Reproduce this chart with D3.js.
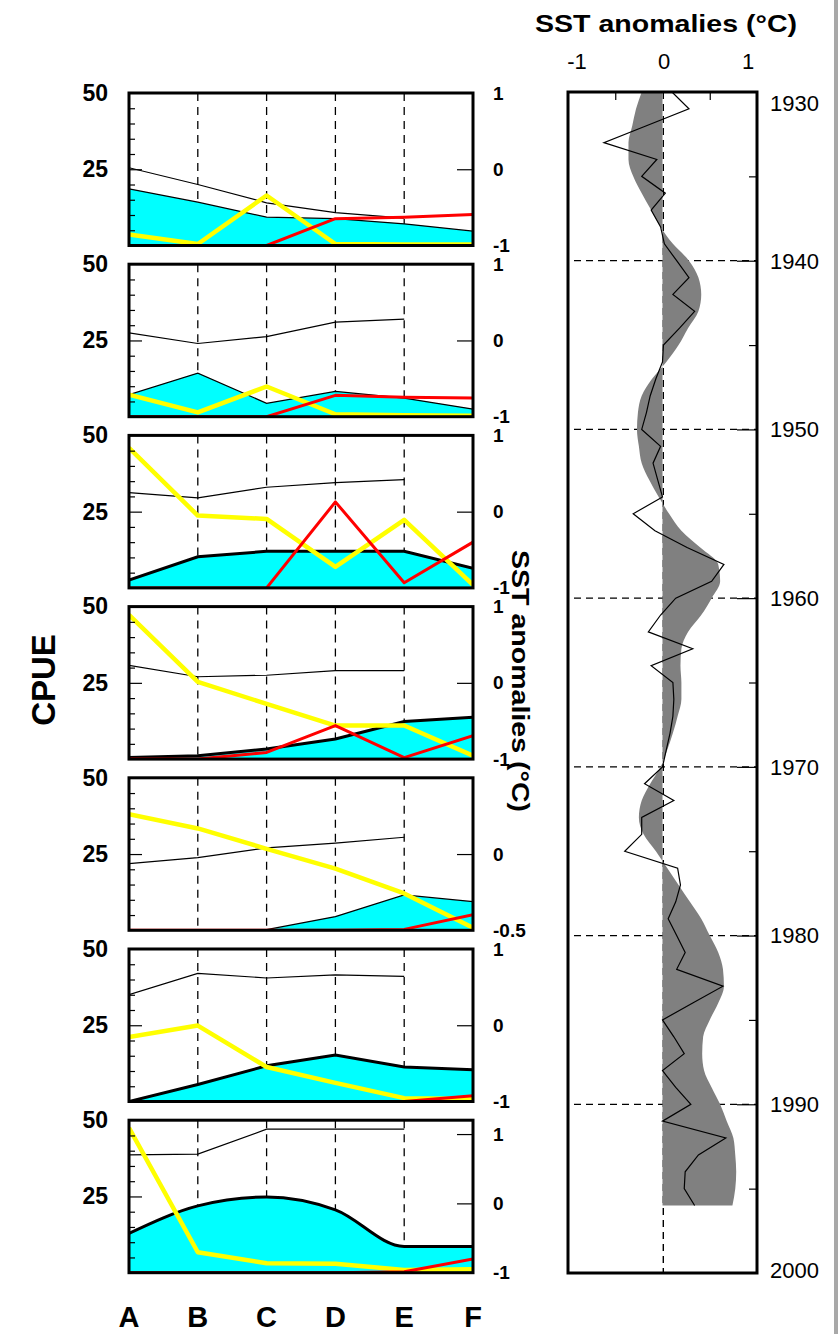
<!DOCTYPE html>
<html><head><meta charset="utf-8">
<script src="https://cdn.jsdelivr.net/npm/d3@7"></script>
<style>
body{margin:0;background:#fff}
svg{display:block}
text{font-family:"Liberation Sans",Arial,Helvetica,sans-serif;fill:#000}
</style>
</head><body>
<svg id="c" width="838" height="1334"></svg>
<script>
// ---------------- DATA ----------------
const categories = ["A","B","C","D","E","F"];
const cpueTickLabels = [50, 25];
const cpueMinorTicks = [5,10,15,20,30,35,40,45];

// CPUE cyan area, one row per panel (top to bottom)
const cyanSeries = [
  [18.6,14.2,9.3,8.8,7.1,4.7],
  [7.2,14.3,4.4,8.3,6.1,2.5],
  [2.6,10.2,12.0,12.0,12.0,6.4],
  [0.5,1.1,3.3,6.6,12.3,13.7],
  [0,0,0.2,4.5,11.6,9.4],
  [0,5.6,11.7,15.2,11.3,10.4],
  [12.9,21.9,24.8,20.6,8.6,8.6]
];
// CPUE yellow line
const yellowSeries = [
  [3.6,0.5,16.4,0.5,0.3,0.3],
  [7.2,1.4,9.9,0.8,0.5,0.3],
  [45.9,23.7,22.6,6.9,22.3,1.0],
  [47.3,25.3,18.1,11.0,11.0,1.1],
  [38.1,33.4,26.7,20.2,12.1,0.8],
  [21.1,24.9,11.3,6.1,1.1,0.8],
  [47.5,6.7,3.1,2.9,0.9,1.1]
];
// CPUE red line
const redSeries = [
  [0,0,0,8.8,9.3,10.2],
  [0,0,0,7.0,6.4,6.1],
  [0,0,0,28.2,1.7,15.0],
  [0,0,2.2,11.0,0.5,7.7],
  [0,0,0,0,0.3,5.1],
  [0,0,0,0,0,1.9],
  [0,0,0,0,0.3,4.5]
];
// SST anomaly thin black line (categories A-E), right axis
const sstPanelSeries = [
  [0.02,-0.2,-0.44,-0.57,-0.64],
  [0.10,-0.04,0.05,0.24,0.28],
  [0.25,0.18,0.32,0.38,0.42],
  [0.23,0.08,0.10,0.16,0.16],
  [-0.063,-0.024,0.041,0.071,0.11],
  [0.40,0.68,0.62,0.66,0.64],
  [0.70,0.71,1.07,1.07,1.07]
];
const rightDomains = [[-1,1],[-1,1],[-1,1],[-1,1],[-0.5,0.5],[-1,1],[-1,1.2]];
const rightTickLabels = [[1,0,-1],[1,0,-1],[1,0,-1],[1,0,-1],[0,-0.5],[1,0,-1],[1,0,-1]];
const rightTickMarks = [[0],[0],[0],[0],[0],[0],[1,0]];
const thickOutline = [false,false,true,true,false,true,true];

// Long SST record
const sstYears = d3.range(1930, 1997);
const sstSmooth = [-0.22,-0.28,-0.32,-0.36,-0.36,-0.31,-0.22,-0.12,-0.02,0.11,
  0.28,0.38,0.41,0.38,0.27,0.17,0.04,-0.11,-0.22,-0.26,
  -0.27,-0.25,-0.22,-0.14,-0.04,0.07,0.20,0.40,0.59,0.61,
  0.52,0.41,0.27,0.20,0.19,0.20,0.20,0.16,0.11,0.05,
  -0.02,-0.13,-0.22,-0.25,-0.20,-0.07,0.05,0.17,0.29,0.41,
  0.50,0.59,0.64,0.65,0.59,0.50,0.43,0.42,0.44,0.52,
  0.61,0.68,0.75,0.77,0.78,0.77,0.74];
const sstAnnual = [0.10,0.28,-0.17,-0.62,-0.06,-0.22,0.03,-0.12,-0.02,0.02,
  0.15,0.28,0.11,0.34,0.18,0.01,0.0,-0.07,-0.13,-0.17,
  -0.22,-0.02,-0.10,-0.05,0.0,-0.31,-0.08,0.26,0.65,0.52,
  0.14,-0.02,-0.15,0.32,-0.12,0.11,0.12,0.11,0.08,0.04,
  0.0,-0.19,0.12,-0.22,-0.22,-0.40,0.16,0.19,0.14,0.06,
  0.15,0.24,0.15,0.64,0.32,0.0,0.12,0.23,0.0,0.14,
  0.30,0.0,0.67,0.38,0.24,0.23,0.34];
const sstXTicks = [-1, 0, 1];
const sstXMinor = [-0.5, 0.5];
const yearLabels = [1930,1940,1950,1960,1970,1980,1990,2000];
const yearMinor = [1935,1945,1955,1965,1975,1985,1995];
const yearDashed = [1940,1950,1960,1970,1980,1990];

// ---------------- DRAW ----------------
const svg = d3.select("#c");
svg.append("rect").attr("width",838).attr("height",1334).attr("fill","#fff");
svg.append("rect").attr("x",834).attr("y",0).attr("width",4).attr("height",1334).attr("fill","#a8a8a8");

const xL = d3.scalePoint().domain(categories).range([129, 473]);
const panelTop0 = 93, panelStep = 171.2, panelH = 152.5;

cyanSeries.forEach((cy, i) => {
  const top = panelTop0 + i*panelStep, bot = top + panelH;
  const y = d3.scaleLinear().domain([0,50]).range([bot, top]);
  const yR = d3.scaleLinear().domain(rightDomains[i]).range([bot, top]);
  const g = svg.append("g");
  const clipId = "clip"+i;
  g.append("clipPath").attr("id",clipId).append("rect")
    .attr("x",129).attr("y",top).attr("width",344).attr("height",panelH);
  const inner = g.append("g").attr("clip-path",`url(#${clipId})`);

  // dashed category lines
  inner.selectAll("line.grid").data(categories.slice(1,5)).join("line")
    .attr("x1",d=>xL(d)).attr("x2",d=>xL(d)).attr("y1",top).attr("y2",bot)
    .attr("stroke","#000").attr("stroke-width",1.3).attr("stroke-dasharray","8,6");

  const curve = i === 6 ? d3.curveMonotoneX : d3.curveLinear;
  const area = d3.area().x((d,j)=>xL(categories[j])).y0(bot).y1(d=>y(d)).curve(curve);
  const line = d3.line().x((d,j)=>xL(categories[j])).y(d=>y(d)).curve(curve);
  inner.append("path").attr("d",area(cy)).attr("fill","#00ffff");
  inner.append("path").attr("d",line(cy)).attr("fill","none").attr("stroke","#000")
    .attr("stroke-width",thickOutline[i]?3:1.2);

  const lineR = d3.line().x((d,j)=>xL(categories[j])).y(d=>yR(d));
  inner.append("path").attr("d",lineR(sstPanelSeries[i])).attr("fill","none")
    .attr("stroke","#000").attr("stroke-width",1.2);

  const lineL = d3.line().x((d,j)=>xL(categories[j])).y(d=>y(d));
  inner.append("path").attr("d",lineL(yellowSeries[i])).attr("fill","none")
    .attr("stroke","#ffff00").attr("stroke-width",4.5).attr("stroke-linejoin","round");
  inner.append("path").attr("d",lineL(redSeries[i])).attr("fill","none")
    .attr("stroke","#ff0000").attr("stroke-width",3).attr("stroke-linejoin","round");

  // left inner ticks
  const axMinor = g.append("g").attr("transform",`translate(129,0)`)
    .call(d3.axisRight(y).tickValues(cpueMinorTicks).tickSize(6).tickFormat(""));
  axMinor.select(".domain").remove();
  axMinor.selectAll("line").attr("stroke-width",1.2);
  const axMajor = g.append("g").attr("transform",`translate(129,0)`)
    .call(d3.axisRight(y).tickValues([25]).tickSize(13).tickFormat(""));
  axMajor.select(".domain").remove();
  axMajor.selectAll("line").attr("stroke-width",1.2);
  // left labels
  const axLab = g.append("g").attr("transform",`translate(129,0)`)
    .call(d3.axisLeft(y).tickValues(cpueTickLabels).tickSize(0).tickPadding(21));
  axLab.select(".domain").remove();
  axLab.selectAll("text").attr("font-size",23).attr("font-weight","bold")
    .attr("font-family","Liberation Sans, Arial, sans-serif");

  // right inner ticks
  const axR = g.append("g").attr("transform",`translate(473,0)`)
    .call(d3.axisLeft(yR).tickValues(rightTickMarks[i]).tickSize(16).tickFormat(""));
  axR.select(".domain").remove();
  axR.selectAll("line").attr("stroke-width",1.2);
  const axRL = g.append("g").attr("transform",`translate(473,0)`)
    .call(d3.axisRight(yR).tickValues(rightTickLabels[i]).tickSize(0).tickPadding(20).tickFormat(d=>String(d)));
  axRL.select(".domain").remove();
  axRL.selectAll("text").attr("font-size",19).attr("font-weight","bold")
    .attr("font-family","Liberation Sans, Arial, sans-serif");

  // frame
  g.append("rect").attr("x",129).attr("y",top).attr("width",344).attr("height",panelH)
    .attr("fill","none").attr("stroke","#000").attr("stroke-width",3);
});

// category labels
svg.append("g").selectAll("text").data(categories).join("text")
  .attr("x",d=>xL(d)).attr("y",1327).attr("text-anchor","middle")
  .attr("font-size",29).attr("font-weight","bold").text(d=>d);

// CPUE label
svg.append("text").attr("transform","translate(55,680) rotate(-90)")
  .attr("text-anchor","middle").attr("font-size",33).attr("font-weight","bold").text("CPUE");

// rotated SST label
svg.append("text").attr("transform","translate(512,681) rotate(90)")
  .attr("text-anchor","middle").attr("font-size",24).attr("font-weight","bold")
  .attr("textLength",262).attr("lengthAdjust","spacingAndGlyphs").text("SST anomalies (°C)");

// ---------------- SST long panel ----------------
const xS = d3.scaleLinear().domain([-1,1]).range([568,757]);
const yS = d3.scaleLinear().domain([1930,2000]).range([92,1273]);
const gS = svg.append("g");

gS.selectAll("line.hd").data(yearDashed).join("line")
  .attr("x1",574).attr("x2",757).attr("y1",d=>yS(d)).attr("y2",d=>yS(d))
  .attr("stroke","#000").attr("stroke-width",1.2).attr("stroke-dasharray","7,5");
gS.append("line").attr("x1",xS(0)+0.8).attr("x2",xS(0)+0.8).attr("y1",92).attr("y2",1273)
  .attr("stroke","#000").attr("stroke-width",1.4).attr("stroke-dasharray","7,5");

const sArea = d3.area().y((d,j)=>yS(sstYears[j])).x0(xS(0)).x1(d=>xS(d)).curve(d3.curveMonotoneY);
gS.append("path").attr("d",sArea(sstSmooth)).attr("fill","#808080");
const sLine = d3.line().y((d,j)=>yS(sstYears[j])).x(d=>xS(d));
gS.append("path").attr("d",sLine(sstAnnual)).attr("fill","none").attr("stroke","#000").attr("stroke-width",1.2);

// ticks on right (inner)
const ayMaj = gS.append("g").attr("transform","translate(757,0)")
  .call(d3.axisLeft(yS).tickValues(yearDashed).tickSize(20).tickFormat(""));
ayMaj.select(".domain").remove(); ayMaj.selectAll("line").attr("stroke-width",1.2);
const ayMin = gS.append("g").attr("transform","translate(757,0)")
  .call(d3.axisLeft(yS).tickValues(yearMinor).tickSize(8).tickFormat(""));
ayMin.select(".domain").remove(); ayMin.selectAll("line").attr("stroke-width",1.2);
// top inner ticks
const axTop = gS.append("g").attr("transform","translate(0,92)")
  .call(d3.axisBottom(xS).tickValues(sstXMinor).tickSize(8).tickFormat(""));
axTop.select(".domain").remove(); axTop.selectAll("line").attr("stroke-width",1.2);

// year labels
gS.selectAll("text.yl").data(yearLabels).join("text")
  .attr("x",770).attr("y",d=>yS(d) + (d===1930?11:(d===2000?-3:0)))
  .attr("dy","0.36em").attr("font-size",22).text(d=>d);
// x labels
gS.selectAll("text.xl").data(sstXTicks).join("text")
  .attr("x",d=>xS(d) - 9*d + (d===0?1.5:0)).attr("y",69).attr("text-anchor","middle")
  .attr("font-size",22).text(d=>d===0?"0":String(d));

// frame
gS.append("rect").attr("x",568).attr("y",92).attr("width",189).attr("height",1181)
  .attr("fill","none").attr("stroke","#000").attr("stroke-width",3);

// title
svg.append("text").attr("x",666).attr("y",32).attr("text-anchor","middle")
  .attr("font-size",24).attr("font-weight","bold")
  .attr("textLength",262).attr("lengthAdjust","spacingAndGlyphs").text("SST anomalies (°C)");
</script>
</body></html>
